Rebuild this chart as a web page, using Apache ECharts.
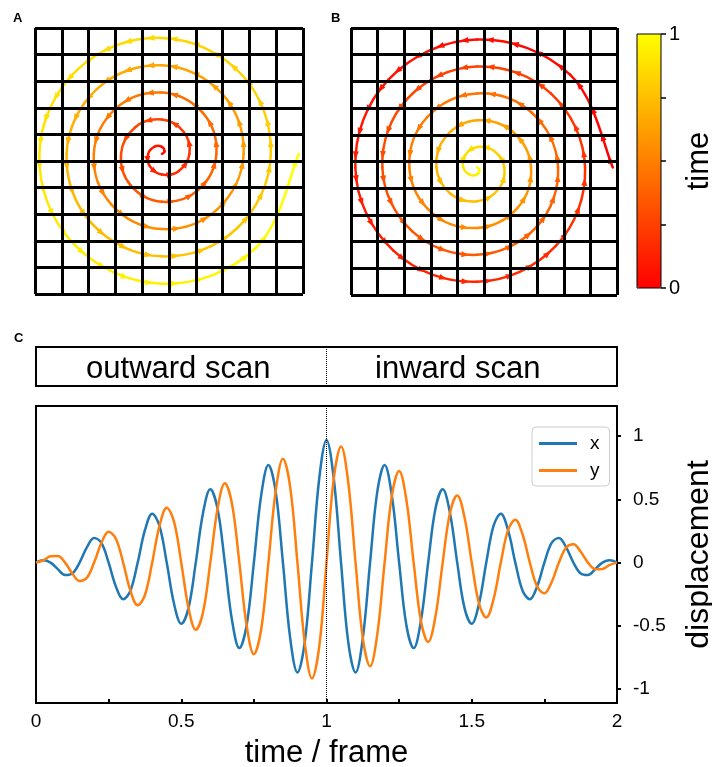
<!DOCTYPE html>
<html>
<head>
<meta charset="utf-8">
<script src="https://cdn.jsdelivr.net/npm/echarts@6/dist/echarts.min.js"></script>
<style>
  html, body { margin: 0; padding: 0; background: #fff; }
  #chart { width: 712px; height: 767px; }
</style>
</head>
<body>
<div id="chart"></div>
<script>
'use strict'
/* data: scan displacement every 0.025 frame */
var timeVals = [0, 0.025, 0.05, 0.075, 0.1, 0.125, 0.15, 0.175, 0.2, 0.225, 0.25, 0.275, 0.3, 0.325, 0.35, 0.375,
  0.4, 0.425, 0.45, 0.475, 0.5, 0.525, 0.55, 0.575, 0.6, 0.625, 0.65, 0.675, 0.7, 0.725, 0.75, 0.775,
  0.8, 0.825, 0.85, 0.875, 0.9, 0.925, 0.95, 0.975, 1, 1.025, 1.05, 1.075, 1.1, 1.125, 1.15, 1.175,
  1.2, 1.225, 1.25, 1.275, 1.3, 1.325, 1.35, 1.375, 1.4, 1.425, 1.45, 1.475, 1.5, 1.525, 1.55, 1.575,
  1.6, 1.625, 1.65, 1.675, 1.7, 1.725, 1.75, 1.775, 1.8, 1.825, 1.85, 1.875, 1.9, 1.925, 1.95, 1.975, 2];
var xDisp = [0, 0.018, 0, -0.052, -0.098, -0.086, 0, 0.12, 0.195, 0.155, 0, -0.189, -0.29, -0.222, 0, 0.256,
  0.386, 0.29, 0, -0.324, -0.483, -0.358, 0, 0.392, 0.579, 0.426, 0, -0.46, -0.676, -0.495, 0, 0.529,
  0.772, 0.563, 0, -0.597, -0.869, -0.631, 0, 0.665, 0.97, 0.665, 0, -0.631, -0.869, -0.597, 0, 0.563,
  0.772, 0.529, 0, -0.495, -0.676, -0.46, 0, 0.426, 0.579, 0.392, 0, -0.358, -0.483, -0.324, 0, 0.29,
  0.386, 0.256, 0, -0.222, -0.29, -0.189, 0, 0.155, 0.195, 0.12, 0, -0.086, -0.098, -0.052, 0, 0.018, 0];
var yDisp = [0, 0.018, 0.05, 0.052, 0, -0.086, -0.146, -0.12, 0, 0.155, 0.243, 0.189, 0, -0.222, -0.338, -0.256,
  0, 0.29, 0.434, 0.324, 0, -0.358, -0.531, -0.392, 0, 0.426, 0.627, 0.46, 0, -0.495, -0.724, -0.529,
  0, 0.563, 0.82, 0.597, 0, -0.631, -0.917, -0.665, 0, 0.665, 0.917, 0.631, 0, -0.597, -0.82, -0.563,
  0, 0.529, 0.724, 0.495, 0, -0.46, -0.627, -0.426, 0, 0.392, 0.531, 0.358, 0, -0.324, -0.434, -0.29,
  0, 0.256, 0.338, 0.222, 0, -0.189, -0.243, -0.155, 0, 0.12, 0.146, 0.086, 0, -0.052, -0.05, -0.018, 0];
var scanNames = ['outward scan', 'inward scan'];
var timeTicks = [0, 0.5, 1, 1.5, 2];
var dispTicks = [-1, -0.5, 0, 0.5, 1];
var colorTicks = [0, 1];
var timeColors = ['#ff0000', '#ffff00'];

var FONT = 'Liberation Sans, Arial, Helvetica, sans-serif';

/* spiral points [x, y, time within scan] */
var outwardPts = [], inwardPts = [];
for (var k = 0; k < timeVals.length; k++) {
  if (timeVals[k] <= 1) outwardPts.push([xDisp[k], yDisp[k], timeVals[k]]);
  if (timeVals[k] >= 1) inwardPts.push([xDisp[k], yDisp[k], +(timeVals[k] - 1).toFixed(3)]);
}

function bez(a, b, c, d, u) {
  var v = 1 - u;
  return v * v * v * a + 3 * v * v * u * b + 3 * v * u * u * c + u * u * u * d;
}
function bezD(a, b, c, d, u) {
  var v = 1 - u;
  return 3 * v * v * (b - a) + 6 * v * u * (c - b) + 3 * u * u * (d - c);
}

function spiralRenderer(pts) {
  return function (params, api) {
    var i = params.dataIndex;
    if (i >= pts.length - 1) return null;
    var p0 = api.coord(pts[Math.max(i - 1, 0)]);
    var p1 = api.coord(pts[i]);
    var p2 = api.coord(pts[i + 1]);
    var p3 = api.coord(pts[Math.min(i + 2, pts.length - 1)]);
    var s = 0.1875;
    var c1 = [p1[0] + (p2[0] - p0[0]) * s, p1[1] + (p2[1] - p0[1]) * s];
    var c2 = [p2[0] - (p3[0] - p1[0]) * s, p2[1] - (p3[1] - p1[1]) * s];
    var t1 = pts[i][2], t2 = pts[i + 1][2];
    var col1 = echarts.color.lerp(t1, timeColors);
    var col2 = echarts.color.lerp(t2, timeColors);
    var children = [{
      type: 'bezierCurve',
      shape: { x1: p1[0], y1: p1[1], x2: p2[0], y2: p2[1], cpx1: c1[0], cpy1: c1[1], cpx2: c2[0], cpy2: c2[1] },
      style: {
        fill: null,
        stroke: new echarts.graphic.LinearGradient(p1[0], p1[1], p2[0], p2[1],
          [{ offset: 0, color: col1 }, { offset: 1, color: col2 }], true),
        lineWidth: 2.5,
        lineCap: 'round'
      }
    }];
    /* arrow heads along the path, roughly every 24 px */
    var segLen = Math.sqrt((p2[0] - p1[0]) * (p2[0] - p1[0]) + (p2[1] - p1[1]) * (p2[1] - p1[1]));
    var nArrows = segLen > 12 ? Math.max(1, Math.round(segLen / 24)) : 0;
    var L = 8, W = 6;
    for (var j = 0; j < nArrows; j++) {
      var u = (j + 0.5) / nArrows;
      var bx = bez(p1[0], c1[0], c2[0], p2[0], u), by = bez(p1[1], c1[1], c2[1], p2[1], u);
      var dx = bezD(p1[0], c1[0], c2[0], p2[0], u), dy = bezD(p1[1], c1[1], c2[1], p2[1], u);
      var n = Math.sqrt(dx * dx + dy * dy) || 1;
      dx /= n; dy /= n;
      children.push({
        type: 'polygon',
        shape: { points: [
          [bx + dx * L / 2, by + dy * L / 2],
          [bx - dx * L / 2 - dy * W / 2, by - dy * L / 2 + dx * W / 2],
          [bx - dx * L / 2 + dy * W / 2, by - dy * L / 2 - dx * W / 2]
        ] },
        style: { fill: echarts.color.lerp(t1 + (t2 - t1) * u, timeColors), stroke: null }
      });
    }
    return { type: 'group', children: children };
  };
}

function gridAxis(gridIndex) {
  return {
    type: 'value', gridIndex: gridIndex, min: 0, max: 10, interval: 1, z: 5,
    axisLine: { show: false, onZero: false }, axisTick: { show: false }, axisLabel: { show: false },
    splitLine: { show: true, lineStyle: { color: '#000', width: 3 } }
  };
}

var chart = echarts.init(document.getElementById('chart'));
var option = {
  animation: false,
  backgroundColor: '#fff',
  textStyle: { fontFamily: FONT },
  grid: [
    { left: 35, top: 28, width: 268, height: 266, outerBoundsMode: 'none' },
    { left: 351, top: 28, width: 266, height: 267, outerBoundsMode: 'none' },
    { left: 637, top: 34, width: 24, height: 254, show: true, borderColor: '#000', borderWidth: 1, z: 10, outerBoundsMode: 'none' },
    { left: 36, top: 347, width: 581, height: 39, show: true, borderColor: '#000', borderWidth: 2, outerBoundsMode: 'none' },
    { left: 36, top: 406, width: 581, height: 297, show: true, borderColor: '#000', borderWidth: 2, outerBoundsMode: 'none' }
  ],
  xAxis: [
    gridAxis(0),
    { type: 'value', gridIndex: 0, min: -0.9, max: 1.0, show: false },
    gridAxis(1),
    { type: 'value', gridIndex: 1, min: -0.9, max: 1.0, show: false },
    { type: 'value', gridIndex: 2, min: 0, max: 1, show: false },
    { type: 'value', gridIndex: 3, min: 0, max: 2, show: false },
    {
      type: 'value', gridIndex: 4, min: 0, max: 2, interval: 0.25,
      name: 'time / frame', nameLocation: 'middle', nameGap: 35,
      nameTextStyle: { fontSize: 31, color: '#000' },
      axisLine: { show: true, onZero: false, lineStyle: { color: '#000', width: 2 } },
      axisTick: { show: true, inside: true, length: 4, lineStyle: { color: '#000', width: 2 } },
      axisLabel: { customValues: timeTicks, fontSize: 19, color: '#000', margin: 9 },
      splitLine: { show: false }
    }
  ],
  yAxis: [
    gridAxis(0),
    { type: 'value', gridIndex: 0, min: -0.99, max: 0.89, show: false },
    gridAxis(1),
    { type: 'value', gridIndex: 1, min: -0.915, max: 1.0, show: false },
    {
      type: 'value', gridIndex: 2, position: 'right', min: 0, max: 1, interval: 0.25,
      name: 'time', nameLocation: 'middle', nameRotate: 90, nameGap: 22,
      nameTextStyle: { fontSize: 31, color: '#000' },
      axisLine: { show: false, onZero: false },
      axisTick: { show: true, length: 5, lineStyle: { color: '#000', width: 1.5 } },
      axisLabel: { customValues: colorTicks, fontSize: 20, color: '#000', margin: 8 },
      splitLine: { show: false }
    },
    { type: 'value', gridIndex: 3, min: 0, max: 1, show: false },
    {
      type: 'value', gridIndex: 4, position: 'right', min: -1.11, max: 1.238,
      name: 'displacement', nameLocation: 'middle', nameRotate: 90, nameGap: 66,
      nameTextStyle: { fontSize: 32, color: '#000' },
      axisLine: { show: true, onZero: false, lineStyle: { color: '#000', width: 2 } },
      axisTick: { show: true, customValues: dispTicks, length: 4, lineStyle: { color: '#000', width: 2 } },
      axisLabel: { customValues: dispTicks, fontSize: 19, color: '#000', margin: 16 },
      splitLine: { show: false }
    }
  ],
  visualMap: {
    type: 'continuous', min: 0, max: 1, dimension: 2, seriesIndex: [0, 1],
    inRange: { color: timeColors }, calculable: false, text: null,
    orient: 'vertical', left: 637, top: 34, itemWidth: 24, itemHeight: 254, padding: 0
  },
  legend: {
    data: ['x', 'y'], orient: 'vertical', left: 532, top: 427,
    icon: 'rect', itemWidth: 38, itemHeight: 3, itemGap: 8,
    backgroundColor: '#fff', borderColor: '#ccc', borderWidth: 1, borderRadius: 4,
    padding: [7, 10, 6, 7],
    textStyle: { fontSize: 19, color: '#000', padding: [0, 0, 0, 8] }
  },
  graphic: [
    { type: 'text', left: 13, top: 12, style: { text: 'A', font: 'bold 13px ' + FONT, fill: '#000' } },
    { type: 'text', left: 331, top: 12, style: { text: 'B', font: 'bold 13px ' + FONT, fill: '#000' } },
    { type: 'text', left: 14, top: 332, style: { text: 'C', font: 'bold 13px ' + FONT, fill: '#000' } }
  ],
  series: [
    {
      type: 'custom', name: 'outward', xAxisIndex: 1, yAxisIndex: 1, clip: true,
      dimensions: ['x', 'y', 'time'], encode: { x: 0, y: 1 },
      renderItem: spiralRenderer(outwardPts), data: outwardPts
    },
    {
      type: 'custom', name: 'inward', xAxisIndex: 3, yAxisIndex: 3, clip: true,
      dimensions: ['x', 'y', 'time'], encode: { x: 0, y: 1 },
      renderItem: spiralRenderer(inwardPts), data: inwardPts
    },
    {
      type: 'line', name: 'scan', xAxisIndex: 5, yAxisIndex: 5, data: [],
      markLine: {
        silent: true, symbol: 'none', label: { show: false },
        lineStyle: { type: 'dotted', color: '#000', width: 1 },
        data: [{ xAxis: 1 }]
      },
      markArea: {
        silent: true, itemStyle: { color: 'rgba(0,0,0,0)' },
        label: { show: true, position: 'inside', fontSize: 31, color: '#000' },
        data: [
          [{ xAxis: 0, name: scanNames[0], label: { offset: [-3, 3] } }, { xAxis: 1 }],
          [{ xAxis: 1, name: scanNames[1], label: { offset: [-14, 3] } }, { xAxis: 2 }]
        ]
      }
    },
    {
      type: 'line', name: 'x', xAxisIndex: 6, yAxisIndex: 6, smooth: 0.37,
      symbol: 'none', showSymbol: false, color: '#1f77b4',
      lineStyle: { width: 2.5 },
      data: timeVals.map(function (t, k) { return [t, xDisp[k]]; }),
      markLine: {
        silent: true, symbol: 'none', label: { show: false },
        lineStyle: { type: 'dotted', color: '#000', width: 1 },
        data: [{ xAxis: 1 }]
      }
    },
    {
      type: 'line', name: 'y', xAxisIndex: 6, yAxisIndex: 6, smooth: 0.37,
      symbol: 'none', showSymbol: false, color: '#ff7f0e',
      lineStyle: { width: 2.5 },
      data: timeVals.map(function (t, k) { return [t, yDisp[k]]; })
    }
  ]
};
chart.setOption(option);
</script>
</body>
</html>
